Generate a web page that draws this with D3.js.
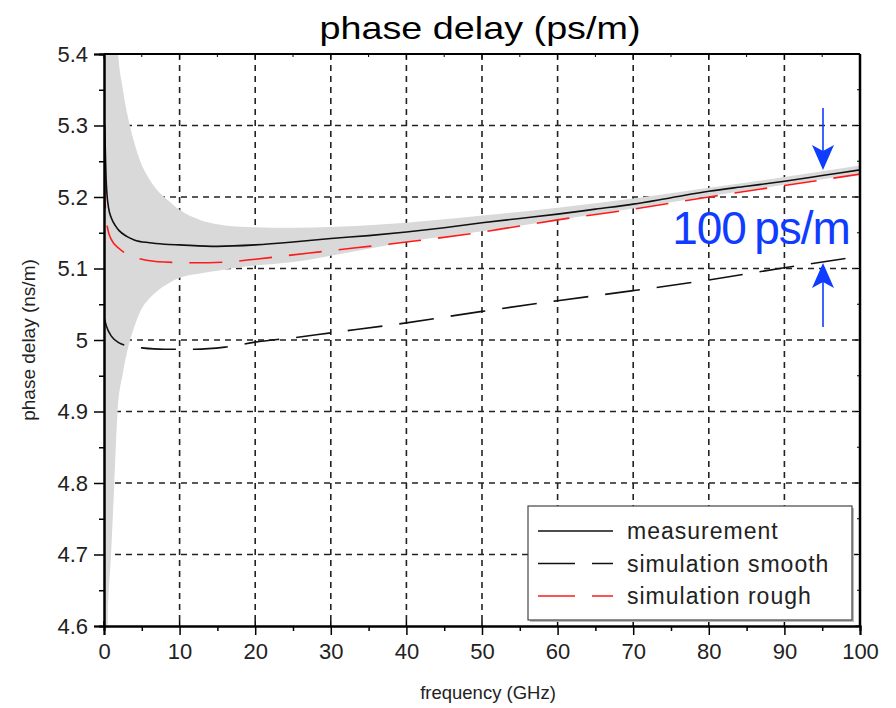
<!DOCTYPE html>
<html>
<head>
<meta charset="utf-8">
<script src="https://cdn.jsdelivr.net/npm/d3@7"></script>
<style>
  body { margin: 0; background: #fff; }
  text { font-family: "Liberation Sans", Arial, sans-serif; }
</style>
</head>
<body>
<div id="chart"></div>
<script>
// measurement (solid black)
var measFreq = [0.1, 0.3, 0.6, 1, 1.5, 2, 3, 4, 6, 8, 10, 15, 20, 25, 30, 35, 40, 45, 50, 55, 60, 65, 70, 75, 80, 85, 90, 95, 100];
var measVals = [5.30, 5.22, 5.185, 5.17, 5.16, 5.153, 5.145, 5.14, 5.136, 5.134, 5.133, 5.131, 5.133, 5.137, 5.142, 5.146, 5.151, 5.157, 5.164, 5.17, 5.176, 5.183, 5.190, 5.199, 5.208, 5.215, 5.222, 5.23, 5.238];

// simulation smooth (black dashed)
var smoothFreq = [0.05, 0.3, 1, 2, 3, 5, 8, 12, 16, 20, 25, 30, 40, 50, 60, 70, 80, 90, 100];
var smoothVals = [5.03, 5.02, 5.005, 4.996, 4.992, 4.989, 4.987, 4.987, 4.99, 4.997, 5.003, 5.01, 5.024, 5.04, 5.055, 5.069, 5.084, 5.101, 5.117];

// simulation rough (red dashed)
var roughFreq = [0.05, 0.2, 0.5, 1, 2, 3, 5, 8, 12, 16, 20, 25, 30, 40, 50, 60, 70, 80, 90, 100];
var roughVals = [5.23, 5.18, 5.155, 5.14, 5.128, 5.12, 5.113, 5.109, 5.108, 5.109, 5.113, 5.119, 5.125, 5.137, 5.151, 5.168, 5.183, 5.2, 5.216, 5.232];

// measurement uncertainty band (grey)
var bandFreq = [0, 0.3, 0.5, 0.93, 1.37, 1.8, 2.5, 3.2, 3.9, 4.8, 6, 7, 8.5, 10, 12.7, 15, 19, 25, 30, 40, 50, 60, 70, 80, 90, 100];
var bandUpper = [7, 6.6, 6.1, 5.66, 5.5, 5.41, 5.35, 5.31, 5.28, 5.25, 5.225, 5.21, 5.195, 5.182, 5.168, 5.162, 5.158, 5.157, 5.158, 5.164, 5.174, 5.185, 5.198, 5.213, 5.228, 5.244];
var bandLower = [4.0, 4.5, 4.61, 4.7, 4.8, 4.9, 4.954, 4.99, 5.015, 5.04, 5.058, 5.068, 5.079, 5.087, 5.093, 5.097, 5.103, 5.109, 5.118, 5.137, 5.152, 5.168, 5.184, 5.201, 5.217, 5.232];

var xTicks = [0, 10, 20, 30, 40, 50, 60, 70, 80, 90, 100];
var yTicks = [4.6, 4.7, 4.8, 4.9, 5, 5.1, 5.2, 5.3, 5.4];
var legendNames = ["measurement", "simulation smooth", "simulation rough"];

var svgW = 896, svgH = 708;
var padL = 104, padR = 860, padT = 54, padB = 626;

var svg = d3.select("#chart").append("svg")
    .attr("width", svgW)
    .attr("height", svgH);

var xScale = d3.scaleLinear().domain([0, 100]).range([padL, padR]);
var yScale = d3.scaleLinear().domain([4.6, 5.4]).range([padB, padT]);

svg.append("clipPath").attr("id", "clip")
  .append("rect")
    .attr("x", padL).attr("y", padT)
    .attr("width", padR - padL).attr("height", padB - padT);

// grid
var grid = svg.append("g").attr("class", "grid");
grid.selectAll(".vgrid").data(xTicks.slice(1, -1)).enter().append("line")
    .attr("x1", d => xScale(d)).attr("x2", d => xScale(d))
    .attr("y1", padT).attr("y2", padB)
    .style("stroke", "#222").style("stroke-width", 1.6).style("stroke-dasharray", "6,5");
grid.selectAll(".hgrid").data(yTicks.slice(1, -1)).enter().append("line")
    .attr("x1", padL).attr("x2", padR)
    .attr("y1", d => yScale(d)).attr("y2", d => yScale(d))
    .style("stroke", "#222").style("stroke-width", 1.6).style("stroke-dasharray", "6,5");

var plot = svg.append("g").attr("clip-path", "url(#clip)");

// band
var band = d3.area()
    .x((d, i) => xScale(bandFreq[i]))
    .y0((d, i) => yScale(bandLower[i]))
    .y1((d, i) => yScale(bandUpper[i]))
    .curve(d3.curveMonotoneX);
plot.append("path").datum(bandFreq)
    .attr("d", band)
    .style("fill", "#d9d9d9");

function curve(fx, vals) {
    return d3.line()
        .x((d, i) => xScale(fx[i]))
        .y(d => yScale(d))
        .curve(d3.curveMonotoneX)(vals);
}

plot.append("path").attr("d", curve(smoothFreq, smoothVals))
    .style("fill", "none").style("stroke", "#111").style("stroke-width", 1.6)
    .style("stroke-dasharray", "35,17");
plot.append("path").attr("d", curve(roughFreq, roughVals))
    .style("fill", "none").style("stroke", "#ff1a1a").style("stroke-width", 1.6)
    .style("stroke-dasharray", "33,17");
plot.append("path").attr("d", curve(measFreq, measVals))
    .style("fill", "none").style("stroke", "#111").style("stroke-width", 1.6);

// axes
const xAxis = d3.axisBottom().scale(xScale).tickValues(xTicks).tickSize(9).tickPadding(8).tickFormat(d3.format("d"));
const xMinor = d3.axisBottom().scale(xScale).tickValues(d3.range(5, 100, 10)).tickSize(5).tickFormat("");
const yAxis = d3.axisLeft().scale(yScale).tickValues(yTicks).tickSize(10).tickPadding(6).tickFormat(d => d == 5 ? "5" : d3.format(".1f")(d));
const yMinor = d3.axisLeft().scale(yScale).tickValues(d3.range(4.65, 5.4, 0.1)).tickSize(5).tickFormat("");

svg.append("g").call(xMinor).attr("transform", "translate(0," + padB + ")");
svg.append("g").call(yMinor).attr("transform", "translate(" + padL + ",0)");
var gx = svg.append("g").call(xAxis).attr("transform", "translate(0," + padB + ")");
var gy = svg.append("g").call(yAxis).attr("transform", "translate(" + padL + ",0)");

// inward ticks on bottom for majors
svg.selectAll(".xin").data(xTicks).enter().append("line")
    .attr("x1", d => xScale(d)).attr("x2", d => xScale(d))
    .attr("y1", padB).attr("y2", padB - 5)
    .style("stroke", "#000").style("stroke-width", 1.5);
// inward ticks on top and right
svg.selectAll(".tin").data(d3.range(0, 101, 5)).enter().append("line")
    .attr("x1", d => xScale(d)).attr("x2", d => xScale(d))
    .attr("y1", padT).attr("y2", d => padT + (d % 10 == 0 ? 5 : 3))
    .style("stroke", "#000").style("stroke-width", 1);
svg.selectAll(".rin").data(d3.range(4.6, 5.41, 0.05)).enter().append("line")
    .attr("x1", padR).attr("x2", (d, i) => padR - (i % 2 == 0 ? 5 : 3))
    .attr("y1", d => yScale(d)).attr("y2", d => yScale(d))
    .style("stroke", "#000").style("stroke-width", 1);

svg.selectAll(".domain").style("stroke", "#000").style("stroke-width", 2);
svg.selectAll(".tick line").style("stroke", "#000").style("stroke-width", 1.5);
gx.selectAll("text").style("font-size", "22px").style("fill", "#222");
gy.selectAll("text").style("font-size", "22px").style("fill", "#222");

// frame top / right
svg.append("line").attr("x1", padL).attr("x2", padR).attr("y1", padT).attr("y2", padT)
    .style("stroke", "#000").style("stroke-width", 2);
svg.append("line").attr("x1", padR).attr("x2", padR).attr("y1", padT).attr("y2", padB)
    .style("stroke", "#000").style("stroke-width", 2.5);

// titles
svg.append("text")
    .attr("transform", "translate(480,39) scale(1.18,1)")
    .attr("text-anchor", "middle").style("font-size", "32px").style("fill", "#000")
    .text("phase delay (ps/m)");
svg.append("text").attr("x", 488).attr("y", 699)
    .attr("text-anchor", "middle").style("font-size", "18.5px").style("fill", "#222")
    .text("frequency (GHz)");
svg.append("text")
    .attr("transform", "translate(35,340) rotate(-90)")
    .attr("text-anchor", "middle").style("font-size", "19px").style("fill", "#222")
    .text("phase delay (ns/m)");

// annotation
var blue = "#0f3cff";
svg.append("text").attr("x", 761).attr("y", 244)
    .attr("text-anchor", "middle").style("font-size", "46px").style("fill", blue)
    .style("letter-spacing", "-1px")
    .text("100\u2009ps/m");

function arrow(x, tipY, tailY) {
    var dir = tailY < tipY ? 1 : -1;
    svg.append("line").attr("x1", x).attr("x2", x)
        .attr("y1", tailY).attr("y2", tipY - dir * 15)
        .style("stroke", blue).style("stroke-width", 1.6);
    var baseY = tipY - dir * 25;
    var notchY = tipY - dir * 19;
    svg.append("path")
        .attr("d", "M" + x + "," + tipY + " L" + (x - 11) + "," + baseY + " L" + x + "," + notchY + " L" + (x + 11) + "," + baseY + " Z")
        .style("fill", blue);
}
arrow(823, 170, 108);
arrow(823, 263, 327);

// legend
var lg = svg.append("g");
lg.append("rect").attr("x", 530).attr("y", 508).attr("width", 324).attr("height", 114)
    .style("fill", "#bbb");
lg.append("rect").attr("x", 528).attr("y", 506).attr("width", 324).attr("height", 114)
    .style("fill", "#fff").style("stroke", "#444").style("stroke-width", 1.2);
var legendStyles = [
    {color: "#111", dash: null},
    {color: "#111", dash: "37,17"},
    {color: "#ff1a1a", dash: "37,17"}
];
legendNames.forEach(function(name, i) {
    var cy = 531 + i * 32.5;
    lg.append("line").attr("x1", 538).attr("x2", 613).attr("y1", cy).attr("y2", cy)
        .style("stroke", legendStyles[i].color).style("stroke-width", 1.5)
        .style("stroke-dasharray", legendStyles[i].dash);
    lg.append("text").attr("x", 627).attr("y", cy + 8)
        .style("font-size", "23px").style("fill", "#222").style("letter-spacing", "1px")
        .text(name);
});
</script>
</body>
</html>
